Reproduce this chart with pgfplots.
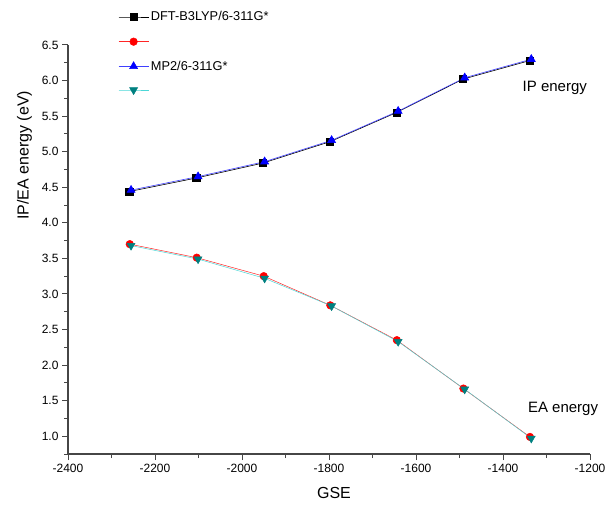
\documentclass[border=0pt]{standalone}
\usepackage{pgfplots}
\pgfplotsset{compat=1.18}
\usepackage{fontspec}
\setmainfont{Liberation Sans}
\definecolor{teal2}{RGB}{0,128,128}
\definecolor{axgray}{RGB}{70,70,70}
\begin{document}
\begin{tikzpicture}[x=1pt,y=1pt]
\useasboundingbox (0,0) rectangle (612,514);
\begin{axis}[
  at={(68pt,60pt)}, anchor=south west,
  scale only axis, width=522pt, height=409pt,
  xmin=-2400, xmax=-1200, ymin=0.75, ymax=6.5,
  axis x line=bottom, axis y line=left,
  axis line style={-, axgray, line width=1.3pt},
  tick align=outside,
  major tick length=6pt, minor tick length=4pt,
  tick style={axgray, line width=1pt},
  xtick={-2400,-2200,...,-1200}, minor xtick={-2300,-2100,...,-1300},
  ytick={1.0,1.5,...,6.5}, minor ytick={0.75,1.25,...,6.25},
  /pgf/number format/assume math mode=true,
  xticklabel style={/pgf/number format/1000 sep={}, font=\fontsize{12}{14}\selectfont, yshift=-1pt},
  yticklabel style={/pgf/number format/.cd, fixed, fixed zerofill, precision=1, /tikz/.cd, font=\fontsize{12}{14}\selectfont},
  xlabel={GSE}, ylabel={IP/EA energy (eV)},
  xlabel style={font=\fontsize{16}{18}\selectfont, yshift=-7pt, xshift=5pt},
  ylabel style={font=\fontsize{16}{18}\selectfont, at={(ticklabel cs:0.73)}, yshift=3pt},
  legend style={at={(0.096,1.087)}, anchor=north west, draw=none, fill=none,
    font=\fontsize{12.8}{14}\selectfont, row sep=13.5pt, inner sep=0pt},
  legend image code/.code={\draw[mark repeat=2,mark phase=2,#1] plot coordinates {(0pt,0pt) (15pt,0pt) (30pt,0pt)};},
  legend cell align=left,
  clip=false,
]
\addplot[black, line width=0.6pt, mark=square*, mark size=3.6pt, mark options={solid, fill=black}]
 coordinates {(-2259,4.44) (-2105,4.63) (-1952,4.84) (-1798,5.14) (-1645,5.55) (-1492,6.02) (-1339,6.28)};
\addlegendentry{DFT-B3LYP/6-311G*}
\addplot[red!85!white, line width=0.5pt, mark=*, mark size=3.8pt, mark options={solid, fill=red, draw=red}]
 coordinates {(-2258,3.70) (-2104,3.51) (-1950,3.25) (-1797,2.84) (-1644,2.35) (-1491,1.67) (-1338,0.99)};
\addlegendentry{}
\addplot[blue!75!white, line width=0.6pt, mark=triangle*, mark size=4.6pt, mark options={solid, fill=blue, draw=blue}]
 coordinates {(-2255,4.46) (-2101,4.65) (-1948,4.86) (-1794,5.16) (-1641,5.57) (-1488,6.04) (-1335,6.30)};
\addlegendentry{MP2/6-311G*}
\addplot[teal2!45!cyan!70!white, line width=0.5pt, mark=triangle*, mark size=4.6pt, mark options={solid, fill=teal2, draw=teal2, rotate=180}]
 coordinates {(-2255,3.68) (-2101,3.49) (-1948,3.22) (-1794,2.83) (-1641,2.33) (-1488,1.66) (-1335,0.97)};
\addlegendentry{}
\node[font=\fontsize{15}{17}\selectfont] at (axis cs:-1281,5.90) {IP energy};
\node[font=\fontsize{15}{17}\selectfont] at (axis cs:-1262,1.39) {EA energy};
\end{axis}
\end{tikzpicture}
\end{document}
